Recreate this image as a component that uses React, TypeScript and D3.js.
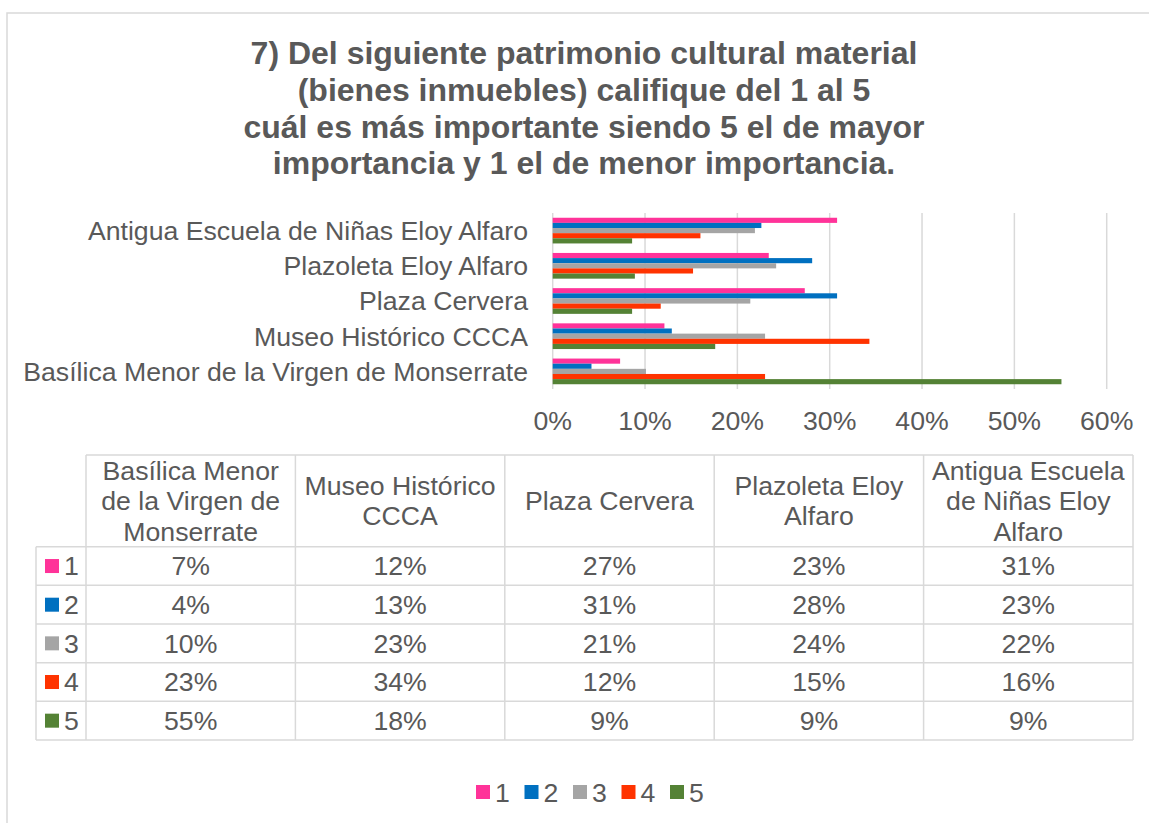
import React from 'react';
import * as d3 from 'd3';

const W = 1149, H = 823;
const FONT = '"Liberation Sans", Arial, sans-serif';
const TEXT = '#595959';
const GRID = '#D9D9D9';

// table order (left to right); the chart draws them bottom to top
const categories = [
  'Basílica Menor de la Virgen de Monserrate',
  'Museo Histórico CCCA',
  'Plaza Cervera',
  'Plazoleta Eloy Alfaro',
  'Antigua Escuela de Niñas Eloy Alfaro',
];
const headerLines = [
  ['Basílica Menor', 'de la Virgen de', 'Monserrate'],
  ['Museo Histórico', 'CCCA'],
  ['Plaza Cervera'],
  ['Plazoleta Eloy', 'Alfaro'],
  ['Antigua Escuela', 'de Niñas Eloy', 'Alfaro'],
];
const seriesNames = ['1', '2', '3', '4', '5'];
const seriesColors = ['#FF3399', '#0070C0', '#A5A5A5', '#FF3300', '#548235'];
const s1 = [0.073, 0.121, 0.273, 0.234, 0.308];
const s2 = [0.042, 0.129, 0.308, 0.281, 0.226];
const s3 = [0.101, 0.230, 0.214, 0.242, 0.219];
const s4 = [0.230, 0.343, 0.117, 0.152, 0.160];
const s5 = [0.551, 0.176, 0.086, 0.089, 0.086];
const series = [s1, s2, s3, s4, s5];
const xTicks = [0, 0.1, 0.2, 0.3, 0.4, 0.5, 0.6];

const titleLines = [
  '7) Del siguiente patrimonio cultural material',
  '(bienes inmuebles) califique del 1 al 5',
  'cuál es más importante siendo 5 el de mayor',
  'importancia y 1 el de menor importancia.',
];

const PLOT = { left: 552.7, right: 1106.7, top: 213, bottom: 389 };
const TABLE = { legendLeft: 36, left: 86, right: 1133, top: 455, headBottom: 546.7, bottom: 740 };

export default function App() {
  const x = d3.scaleLinear().domain([0, 0.6]).range([PLOT.left, PLOT.right]);
  const y = d3.scaleBand<string>()
    .domain([...categories].reverse())
    .range([PLOT.top, PLOT.bottom])
    .paddingInner(0.27)
    .paddingOuter(0.135);
  const yInner = d3.scaleBand<string>().domain(seriesNames).range([0, y.bandwidth()]);
  const pct = d3.format('.0%');

  const col = d3.scaleBand<string>().domain(categories).range([TABLE.left, TABLE.right]);
  const row = d3.scaleBand<string>().domain(seriesNames).range([TABLE.headBottom, TABLE.bottom]);

  const legendX = d3.scaleBand<string>().domain(seriesNames).range([476, 476 + 48.5 * 5]);

  return (
    <div style={{ position: 'absolute', left: 0, top: 0 }}>
      <svg width={W} height={H} style={{ display: 'block', background: '#fff' }} fontFamily={FONT}>
        <rect x={7} y={13} width={W + 20} height={H + 20} fill="#fff" stroke={GRID} strokeWidth={1.5} />

        {titleLines.map((t, i) => (
          <text key={i} x={584} y={64 + i * 36.8} textAnchor="middle" fontSize={32} fontWeight="bold" fill={TEXT}>{t}</text>
        ))}

        {xTicks.map(t => (
          <g key={t}>
            <line x1={x(t)} x2={x(t)} y1={PLOT.top} y2={PLOT.bottom} stroke={GRID} strokeWidth={1.5} />
            <text x={x(t)} y={430} textAnchor="middle" fontSize={26.67} fill={TEXT}>{pct(t)}</text>
          </g>
        ))}

        {categories.map((c, ci) => (
          <g key={c} transform={`translate(0,${y(c)})`}>
            {series.map((s, si) => (
              <rect key={si} x={x(0)} y={yInner(seriesNames[si])} width={x(s[ci]) - x(0)}
                height={yInner.bandwidth()} fill={seriesColors[si]} />
            ))}
            <text x={528} y={y.bandwidth() / 2} dy="0.35em" textAnchor="end" fontSize={26.67} fill={TEXT}>{c}</text>
          </g>
        ))}

        {/* data table */}
        <g stroke={GRID} strokeWidth={1.5} fill="none">
          <line x1={TABLE.left} x2={TABLE.right} y1={TABLE.top} y2={TABLE.top} />
          {seriesNames.map(n => (
            <line key={n} x1={TABLE.legendLeft} x2={TABLE.right} y1={row(n)} y2={row(n)} />
          ))}
          <line x1={TABLE.legendLeft} x2={TABLE.right} y1={TABLE.bottom} y2={TABLE.bottom} />
          <line x1={TABLE.legendLeft} x2={TABLE.legendLeft} y1={TABLE.headBottom} y2={TABLE.bottom} />
          {categories.map(c => (
            <line key={c} x1={col(c)} x2={col(c)} y1={TABLE.top} y2={TABLE.bottom} />
          ))}
          <line x1={TABLE.right} x2={TABLE.right} y1={TABLE.top} y2={TABLE.bottom} />
        </g>

        {categories.map((c, ci) => {
          const cx = (col(c) as number) + col.bandwidth() / 2;
          const lines = headerLines[ci];
          return (
            <g key={c}>
              {lines.map((l, li) => (
                <text key={li} x={cx} y={510 + (li - (lines.length - 1) / 2) * 30.5}
                  textAnchor="middle" fontSize={26.67} fill={TEXT}>{l}</text>
              ))}
              {series.map((s, si) => (
                <text key={si} x={cx} y={(row(seriesNames[si]) as number) + row.bandwidth() / 2} dy="0.35em"
                  textAnchor="middle" fontSize={26.67} fill={TEXT}>{pct(s[ci])}</text>
              ))}
            </g>
          );
        })}

        {seriesNames.map((n, si) => {
          const cy = (row(n) as number) + row.bandwidth() / 2;
          return (
            <g key={n}>
              <rect x={45} y={cy - 7} width={14} height={14} fill={seriesColors[si]} />
              <text x={64} y={cy} dy="0.35em" fontSize={26.67} fill={TEXT}>{n}</text>
            </g>
          );
        })}

        {/* legend */}
        {seriesNames.map((n, si) => (
          <g key={n} transform={`translate(${legendX(n)},0)`}>
            <rect x={0} y={785} width={14} height={14} fill={seriesColors[si]} />
            <text x={19} y={801.5} fontSize={26.67} fill={TEXT}>{n}</text>
          </g>
        ))}
      </svg>
    </div>
  );
}
